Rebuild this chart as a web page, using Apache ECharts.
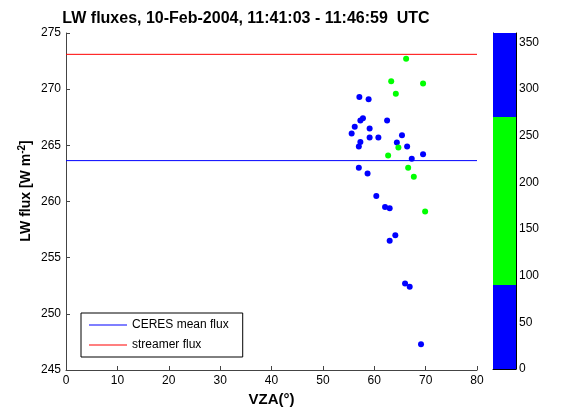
<!DOCTYPE html>
<html>
<head>
<meta charset="utf-8">
<script src="https://cdn.jsdelivr.net/npm/echarts@6/dist/echarts.min.js"></script>
<style>
  html, body { margin: 0; padding: 0; background: #fff; }
  #chart { width: 585px; height: 412px; }
</style>
</head>
<body>
<div id="chart"></div>
<script>
// Viewing zenith angle (deg) and LW flux (W m-2) of the scanned footprints,
// split by the azimuth class shown on the colour bar.
const blueVza  = [57.1, 58.9, 57.8, 57.3, 62.5, 56.2, 59.1, 55.6, 65.4, 57.3, 59.1, 60.8, 64.4, 57.0,
                  66.4, 67.3, 69.5, 57.0, 58.7, 60.4, 62.1, 63.0, 64.1, 63.0, 66.0, 66.9, 69.1];
const blueFlux = [269.3, 269.1, 267.4, 267.2, 267.2, 266.65, 266.5, 266.05, 265.9, 265.3, 265.7, 265.7, 265.25, 264.9,
                  264.9, 263.8, 264.2, 263.0, 262.5, 260.5, 259.5, 259.4, 257.0, 256.5, 252.7, 252.4, 247.3];
const greenVza  = [66.2, 63.3, 69.5, 64.2, 64.7, 62.7, 66.6, 67.7, 69.9];
const greenFlux = [272.7, 270.7, 270.5, 269.6, 264.8, 264.1, 263.0, 262.2, 259.1];

// Reference fluxes drawn as horizontal lines across the VZA range
const ceresMeanFlux = 263.64;
const streamerFlux = 273.1;
const vzaRange = [0, 80];

// Colour bar: azimuth segments (deg) and their colours
const cbarSegments = [90, 180, 90];
const cbarColors = ['#0000ff', '#00ff00', '#0000ff'];
const cbarTicks = [0, 50, 100, 150, 200, 250, 300, 350];

const FONT = 'Liberation Sans, Arial, sans-serif';
const chart = echarts.init(document.getElementById('chart'), null, { renderer: 'canvas' });

const axisLineStyle = { color: '#444', width: 1 };

const cbarSeries = cbarSegments.map((v, i) => ({
  type: 'bar',
  xAxisIndex: 1,
  yAxisIndex: 1,
  stack: 'cbar',
  data: [v],
  barWidth: '100%',
  barCategoryGap: 0,
  itemStyle: { color: cbarColors[i] },
  silent: true,
  z: 1
}));

chart.setOption({
  animation: false,
  backgroundColor: '#fff',
  title: {
    text: 'LW fluxes, 10-Feb-2004, 11:41:03 - 11:46:59  UTC',
    left: 241,
    textAlign: 'center',
    top: 6,
    textStyle: { fontFamily: FONT, fontSize: 16, fontWeight: 'bold', color: '#000' }
  },
  legend: {
    left: 81,
    top: 313,
    width: 150,
    orient: 'vertical',
    data: ['CERES mean flux', 'streamer flux'],
    icon: 'rect',
    itemWidth: 38,
    itemHeight: 1,
    itemGap: 8,
    padding: [6, 14, 6, 8],
    borderColor: '#000',
    borderWidth: 1,
    backgroundColor: '#fff',
    textStyle: { fontFamily: FONT, fontSize: 12, color: '#000' },
    selectedMode: false
  },
  graphic: [
    {
      type: 'text',
      x: 26,
      y: 191,
      rotation: Math.PI / 2,
      silent: true,
      style: {
        text: 'LW flux [W m{sup|-2}]',
        fontFamily: FONT,
        fontSize: 14,
        fontWeight: 'bold',
        fill: '#000',
        align: 'center',
        verticalAlign: 'middle',
        rich: {
          sup: { fontFamily: FONT, fontSize: 10, fontWeight: 'bold', fill: '#000', verticalAlign: 'top', padding: [0, 0, 8, 0] }
        }
      }
    }
  ],
  grid: [
    { left: 66, top: 33, width: 411, height: 337 },
    { left: 493, top: 33, width: 23, height: 336 }
  ],
  xAxis: [
    {
      gridIndex: 0,
      type: 'value',
      min: 0, max: 80, interval: 10,
      name: 'VZA(\u00b0)',
      nameLocation: 'middle',
      nameGap: 21,
      nameTextStyle: { fontFamily: FONT, fontSize: 15, fontWeight: 'bold', color: '#000' },
      axisLine: { show: true, lineStyle: axisLineStyle },
      axisTick: { show: true, inside: true, length: 4, lineStyle: axisLineStyle },
      axisLabel: { fontFamily: FONT, fontSize: 12, color: '#000', margin: 5 },
      splitLine: { show: false }
    },
    {
      gridIndex: 1,
      type: 'category',
      data: [''],
      axisLine: { show: true, lineStyle: { color: '#000' } },
      axisTick: { show: false },
      axisLabel: { show: false },
      splitLine: { show: false }
    }
  ],
  yAxis: [
    {
      gridIndex: 0,
      type: 'value',
      min: 245, max: 275, interval: 5,
      axisLine: { show: true, lineStyle: axisLineStyle },
      axisTick: { show: true, inside: true, length: 4, lineStyle: axisLineStyle },
      axisLabel: { fontFamily: FONT, fontSize: 12, color: '#000', margin: 5 },
      splitLine: { show: false }
    },
    {
      gridIndex: 1,
      type: 'value',
      position: 'right',
      min: 0, max: 360,
      interval: 50,
      axisLine: { show: true, lineStyle: { color: '#000' } },
      axisTick: { show: true, inside: true, length: 3, lineStyle: { color: '#000' } },
      axisLabel: {
        fontFamily: FONT, fontSize: 12, color: '#000', margin: 3,
        formatter: v => (cbarTicks.indexOf(v) >= 0 ? String(v) : '')
      },
      splitLine: { show: false }
    },
    {
      gridIndex: 1,
      type: 'value',
      position: 'left',
      min: 0, max: 360,
      interval: 50,
      axisLine: { show: true, lineStyle: { color: '#000' } },
      axisTick: { show: true, inside: true, length: 3, lineStyle: { color: '#000' } },
      axisLabel: { show: false },
      splitLine: { show: false }
    }
  ],
  series: [
    {
      name: 'CERES mean flux',
      type: 'line',
      xAxisIndex: 0, yAxisIndex: 0,
      data: vzaRange.map(x => [x, ceresMeanFlux]),
      showSymbol: false,
      symbol: 'none',
      lineStyle: { color: '#0000ff', width: 1 },
      itemStyle: { color: '#0000ff' },
      silent: true,
      z: 2
    },
    {
      name: 'streamer flux',
      type: 'line',
      xAxisIndex: 0, yAxisIndex: 0,
      data: vzaRange.map(x => [x, streamerFlux]),
      showSymbol: false,
      symbol: 'none',
      lineStyle: { color: '#ff0000', width: 1 },
      itemStyle: { color: '#ff0000' },
      silent: true,
      z: 2
    },
    {
      name: 'azimuth 0-90 / 270-360',
      type: 'scatter',
      xAxisIndex: 0, yAxisIndex: 0,
      data: blueVza.map((x, i) => [x, blueFlux[i]]),
      symbolSize: 6,
      itemStyle: { color: '#0000ff', opacity: 1 },
      z: 3
    },
    {
      name: 'azimuth 90-270',
      type: 'scatter',
      xAxisIndex: 0, yAxisIndex: 0,
      data: greenVza.map((x, i) => [x, greenFlux[i]]),
      symbolSize: 6,
      itemStyle: { color: '#00ff00', opacity: 1 },
      z: 3
    },
    ...cbarSeries
  ]
});
</script>
</body>
</html>
